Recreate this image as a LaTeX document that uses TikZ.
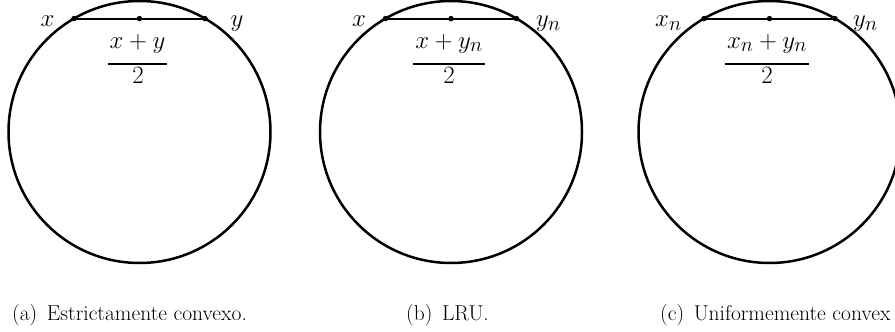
\documentclass[tikz,border=0pt]{standalone}
\usepackage{fontspec}
\usetikzlibrary{calc}
\begin{document}
\begin{tikzpicture}[x=1pt,y=-1pt,
  ring/.style={line width=2.5pt},
  chord/.style={line width=2.2pt},
  dotpt/.style={circle, fill, inner sep=0pt, minimum size=5.5pt},
  lbl/.style={inner sep=0pt, anchor=base west, font=\fontsize{24.88}{28}\selectfont},
  fracpart/.style={inner sep=0pt, anchor=base, font=\fontsize{24.88}{28}\selectfont},
  fracbar/.style={line width=2.8pt},
  capt/.style={inner sep=0pt, anchor=base west, font=\fontsize{21.5}{25}\selectfont}]
\useasboundingbox (0,0) rectangle (895,332);

% circle centres
\coordinate (c1) at (139.5,132);
\coordinate (c2) at (451,132);
\coordinate (c3) at (769.5,132);

\draw[ring] (c1) circle[radius=131];
\draw[ring] (c2) circle[radius=131];
\draw[ring] (c3) circle[radius=131];

% chord points
\node[dotpt] (a1) at (74,18.6) {};
\node[dotpt] (m1) at (139.5,18.6) {};
\node[dotpt] (b1) at (205,18.6) {};
\node[dotpt] (a2) at (385.5,18.6) {};
\node[dotpt] (m2) at (451,18.6) {};
\node[dotpt] (b2) at (516.5,18.6) {};
\node[dotpt] (a3) at (704,18.6) {};
\node[dotpt] (m3) at (769.5,18.6) {};
\node[dotpt] (b3) at (835,18.6) {};

\draw[chord] (a1.center) -- (m1.center) -- (b1.center);
\draw[chord] (a2.center) -- (m2.center) -- (b2.center);
\draw[chord] (a3.center) -- (m3.center) -- (b3.center);

% end labels
\node[lbl] (lx1) at (40.5,26.5) {$x$};
\node[lbl] (ly1) at (230.5,26.5) {$y$};
\node[lbl] (lx2) at (352,26.5) {$x$};
\node[lbl] (ly2) at (536,26.5) {$y_n$};
\node[lbl] (lx3) at (655,26.5) {$x_n$};
\node[lbl] (ly3) at (853,26.5) {$y_n$};

% fractions
\coordinate (bar1) at (137.5,64);
\coordinate (bar2) at (449,64);
\coordinate (bar3) at (767,64);

\node[fracpart] (n1) at (137.5,48) {$x+y$};
\node[fracpart] (d1) at (138,83.3) {$2$};
\draw[fracbar] ($(n1.west|-bar1)+(-2,0)$) -- ($(n1.east|-bar1)+(2,0)$);

\node[fracpart] (n2) at (449,48) {$x+y_n$};
\node[fracpart] (d2) at (449,83.3) {$2$};
\draw[fracbar] ($(n2.west|-bar2)+(-2,0)$) -- ($(n2.east|-bar2)+(2,0)$);

\node[fracpart] (n3) at (767,48) {$x_n+y_n$};
\node[fracpart] (d3) at (767,83.3) {$2$};
\draw[fracbar] ($(n3.west|-bar3)+(-2,0)$) -- ($(n3.east|-bar3)+(2,0)$);

% captions
\node[capt] (cap1) at (12,320) {(a)\hspace{0.45em}Estrictamente convexo.};
\node[capt] (cap2) at (406,320) {(b)\hspace{0.45em}LRU.};
\node[capt] (cap3) at (660,320) {(c)\hspace{0.45em}Uniformemente convex};
\end{tikzpicture}
\end{document}
